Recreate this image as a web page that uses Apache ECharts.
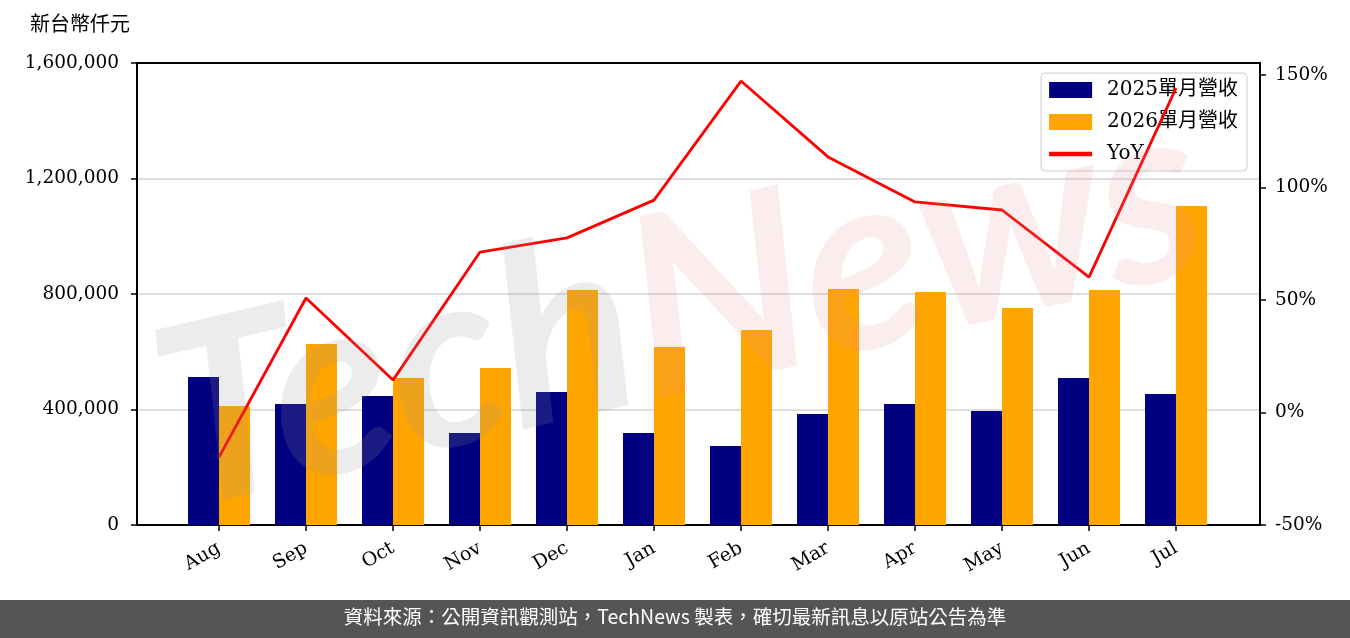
<!DOCTYPE html>
<html><head><meta charset="utf-8">
<script src="https://cdn.jsdelivr.net/npm/echarts@6/dist/echarts.min.js"></script>
<style>html,body{margin:0;padding:0;background:#fff}#c{width:1350px;height:638px}</style>
</head><body><div id="c"></div>
<script>
const months = ['Aug','Sep','Oct','Nov','Dec','Jan','Feb','Mar','Apr','May','Jun','Jul'];
const rev2025 = [512500, 419000, 446700, 318600, 460600, 318600, 273600, 384400, 419000, 394800, 509000, 453700];
const rev2026 = [412100, 626800, 509000, 543700, 813800, 616400, 675300, 817300, 806900, 751500, 813800, 1104700];
const yoy = [-19.8, 50.9, 14.4, 71.3, 77.6, 94.4, 147.3, 113.6, 93.6, 90.0, 60.2, 144.2];
const leftTicks = [0, 400000, 800000, 1200000, 1600000];
const rightTicks = [-50, 0, 50, 100, 150];
const idx = months.map((m,i)=>i);

const serif = 'DejaVu Serif';
const chart = echarts.init(document.getElementById('c'));
chart.setOption({
  animation:false,
  backgroundColor:'#fff',
  grid:{left:137,right:90,top:63,bottom:113,show:false},
  legend:{
    right:103, top:73, orient:'vertical', itemGap:12, itemWidth:43, itemHeight:16,
    backgroundColor:'rgba(255,255,255,0.8)', borderColor:'#ccc', borderWidth:1, borderRadius:4,
    padding:[7,9,7,8],
    textStyle:{fontFamily:serif+', Noto Sans CJK TC', fontSize:20, color:'#000', padding:[0,0,0,10]},
    data:[{name:'2025單月營收',icon:'rect'},{name:'2026單月營收',icon:'rect'},{name:'YoY',icon:'path://M0,0 L10,0 L10,1 L0,1 Z'}]
  },
  graphic:[
    {type:'text', left:30, top:13, style:{text:'新台幣仟元', font:'20px "Noto Sans CJK TC"', fill:'#000'}},
    {type:'rect', left:0, top:600, shape:{width:1350,height:38}, style:{fill:'#555555'}},
    {type:'text', left:'center', top:607, style:{text:'資料來源：公開資訊觀測站，TechNews 製表，確切最新訊息以原站公告為準', font:'19.5px "Noto Sans CJK TC"', fill:'#fff'}},
    {type:'text', x:680, y:310, rotation:0.23, z:100, silent:true,
     style:{text:'{a|Tech}{b|News}', align:'center', verticalAlign:'middle',
       rich:{a:{fontSize:250,fontFamily:'Lato',fontStyle:'italic',fontWeight:'bold',fill:'rgba(150,150,150,0.18)'},
             b:{fontSize:250,fontFamily:'Lato',fontStyle:'italic',fontWeight:'bold',fill:'rgba(230,140,140,0.16)'}}}}
  ],
  xAxis:[{
    type:'value', min:-0.9425, max:11.9655, position:'bottom',
    axisLine:{show:true,onZero:false,lineStyle:{color:'#000',width:2}},
    axisTick:{show:true,length:6,lineStyle:{color:'#000',width:1.5},customValues:idx},
    axisLabel:{customValues:idx, rotate:30, margin:22, fontFamily:serif, fontSize:19, color:'#000',
      formatter:v=>months[Math.round(v)]},
    splitLine:{show:false}
  },{
    type:'value', min:-0.9425, max:11.9655, position:'top', z:10,
    axisLine:{show:true,onZero:false,lineStyle:{color:'#000',width:2}},
    axisTick:{show:false}, axisLabel:{show:false}, splitLine:{show:false}
  }],
  yAxis:[
    {type:'value', min:0, max:1600000, interval:400000, position:'left',
     axisLine:{show:true,onZero:false,lineStyle:{color:'#000',width:2}},
     axisTick:{show:true,length:6,lineStyle:{color:'#000',width:1.5}},
     axisLabel:{fontFamily:serif, fontSize:18.5, color:'#000', margin:18,
       formatter:v=>v.toLocaleString('en-US')},
     splitLine:{show:true,lineStyle:{color:'#d3d3d3',width:1.5}}},
    {type:'value', min:-50, max:155.33, position:'right',
     axisLine:{show:true,onZero:false,lineStyle:{color:'#000',width:2}},
     axisTick:{show:true,length:6,lineStyle:{color:'#000',width:1.5},customValues:rightTicks},
     axisLabel:{customValues:rightTicks, fontFamily:serif, fontSize:18.5, color:'#000', margin:15,
       formatter:v=>Math.round(v)+'%'},
     splitLine:{show:false}}
  ],
  series:[
    {name:'2025單月營收', type:'bar', barWidth:31, barGap:'0%', itemStyle:{color:'#000080'},
     data:rev2025.map((v,i)=>[idx[i],v])},
    {name:'2026單月營收', type:'bar', barWidth:31, barGap:'0%', itemStyle:{color:'#FFA500'},
     data:rev2026.map((v,i)=>[idx[i],v])},
    {name:'YoY', type:'line', yAxisIndex:1, showSymbol:false, symbol:'none', z:5,
     lineStyle:{color:'#FF0000',width:2.8}, itemStyle:{color:'#FF0000'},
     data:yoy.map((v,i)=>[idx[i],v])}
  ]
});
</script></body></html>
